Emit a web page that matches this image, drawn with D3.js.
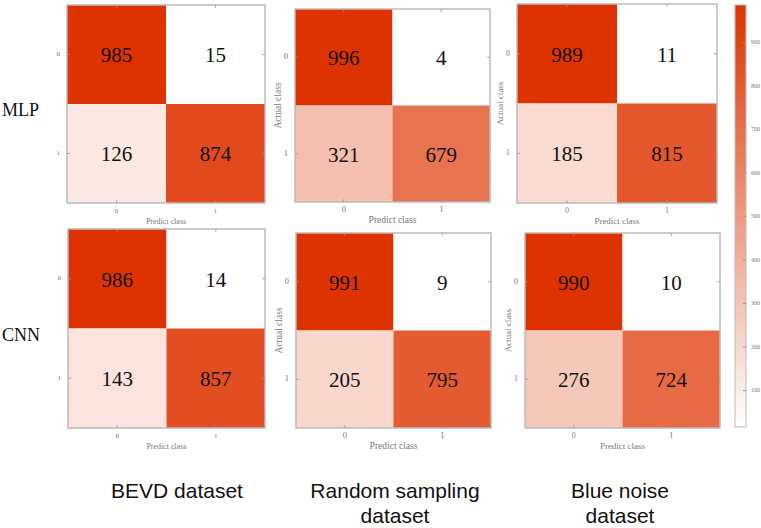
<!DOCTYPE html>
<html>
<head>
<meta charset="utf-8">
<script src="https://cdn.jsdelivr.net/npm/d3@7"></script>
<style>
  body { margin: 0; background: #fff; }
  svg { display: block; }
</style>
</head>
<body>
<svg id="chart" width="761" height="528"></svg>
<script>
// Chart data
var models = ["MLP", "CNN"];
var datasetTitles = [["BEVD dataset"], ["Random sampling", "dataset"], ["Blue noise", "dataset"]];
var classes = ["0", "1"];

// confusion matrices, rows = actual class, cols = predicted class
var mlpBevd = [[985, 15], [126, 874]];
var mlpRandom = [[996, 4], [321, 679]];
var mlpBlue = [[989, 11], [185, 815]];
var cnnBevd = [[986, 14], [143, 857]];
var cnnRandom = [[991, 9], [205, 795]];
var cnnBlue = [[990, 10], [276, 724]];

var matrices = [[mlpBevd, mlpRandom, mlpBlue], [cnnBevd, cnnRandom, cnnBlue]];
var colorbarTicks = [100, 200, 300, 400, 500, 600, 700, 800, 900];
var colorDomain = [15, 985];

// Panel boxes (layout only)
var boxes = [
    [{x: 67, y: 5, w: 198, h: 198, fs: 7, ylab: false},
     {x: 295, y: 9, w: 195, h: 193, fs: 8.5, ylab: true},
     {x: 517, y: 4, w: 200, h: 199, fs: 8, ylab: true}],
    [{x: 68, y: 229, w: 197, h: 199, fs: 7, ylab: false},
     {x: 296, y: 233, w: 195, h: 195, fs: 8.5, ylab: true},
     {x: 525, y: 233, w: 195, h: 195, fs: 8, ylab: true}]
];

var svg = d3.select("#chart");
var color = d3.scaleLinear().domain(colorDomain).range(["#ffffff", "#de3300"]).clamp(true);

var serif = "'Liberation Serif', 'DejaVu Serif', serif";
var gray = "#777";

matrices.forEach(function (row, r) {
    row.forEach(function (m, c) {
        var b = boxes[r][c];
        var g = svg.append("g").attr("transform", "translate(" + b.x + "," + b.y + ")");

        var xScale = d3.scaleBand().domain(classes).range([0, b.w]);
        var yScale = d3.scaleBand().domain(classes).range([0, b.h]);

        // Cells
        var cells = [];
        m.forEach(function (vals, i) {
            vals.forEach(function (v, j) {
                cells.push({actual: classes[i], pred: classes[j], value: v});
            });
        });

        g.selectAll(".cell")
            .data(cells)
            .enter().append("rect")
            .attr("class", "cell")
            .attr("x", d => xScale(d.pred))
            .attr("y", d => yScale(d.actual))
            .attr("width", xScale.bandwidth())
            .attr("height", yScale.bandwidth())
            .attr("fill", d => color(d.value));

        g.selectAll(".num")
            .data(cells)
            .enter().append("text")
            .attr("class", "num")
            .attr("x", d => xScale(d.pred) + xScale.bandwidth() / 2)
            .attr("y", d => yScale(d.actual) + yScale.bandwidth() / 2 + 3)
            .attr("text-anchor", "middle")
            .attr("dominant-baseline", "middle")
            .style("font-family", serif)
            .style("font-size", "21px")
            .style("fill", "#111")
            .text(d => d.value);

        // Frame
        g.append("rect")
            .attr("width", b.w)
            .attr("height", b.h)
            .attr("fill", "none")
            .attr("stroke", "#bbb")
            .attr("stroke-width", 1.5);

        // Inward tick marks on all sides
        classes.forEach(function (k) {
            var cx = xScale(k) + xScale.bandwidth() / 2;
            var cy = yScale(k) + yScale.bandwidth() / 2;
            [[cx, 0, cx, 3], [cx, b.h, cx, b.h - 3], [0, cy, 3, cy], [b.w, cy, b.w - 3, cy]].forEach(function (t) {
                g.append("line")
                    .attr("x1", t[0]).attr("y1", t[1]).attr("x2", t[2]).attr("y2", t[3])
                    .attr("stroke", "#999").attr("stroke-width", 0.8);
            });
        });

        // Tick labels
        g.selectAll(".ytick")
            .data(classes)
            .enter().append("text")
            .attr("x", -7)
            .attr("y", d => yScale(d) + yScale.bandwidth() / 2)
            .attr("text-anchor", "end")
            .attr("dominant-baseline", "middle")
            .style("font-family", serif)
            .style("font-size", b.fs + "px")
            .style("fill", gray)
            .text(d => d);

        g.selectAll(".xtick")
            .data(classes)
            .enter().append("text")
            .attr("x", d => xScale(d) + xScale.bandwidth() / 2)
            .attr("y", b.h + 10)
            .attr("text-anchor", "middle")
            .style("font-family", serif)
            .style("font-size", b.fs + "px")
            .style("fill", gray)
            .text(d => d);

        // Axis titles
        g.append("text")
            .attr("x", b.w / 2)
            .attr("y", b.h + 21)
            .attr("text-anchor", "middle")
            .style("font-family", serif)
            .style("font-size", (b.fs + 1) + "px")
            .style("fill", gray)
            .text("Predict class");

        if (b.ylab) {
            g.append("text")
                .attr("transform", "translate(-14," + (b.h / 2) + ") rotate(-90)")
                .attr("text-anchor", "middle")
                .style("font-family", serif)
                .style("font-size", (b.fs + 1) + "px")
                .style("fill", gray)
                .text("Actual class");
        }
    });

    // Model label
    var b0 = boxes[r][0];
    svg.append("text")
        .attr("x", 2)
        .attr("y", b0.y + b0.h / 2 + 12)
        .style("font-family", serif)
        .style("font-size", "18px")
        .style("fill", "#111")
        .text(models[r]);
});

// Dataset titles under each column
var titleX = [177, 395, 620];
datasetTitles.forEach(function (lines, c) {
    var t = svg.append("text")
        .attr("x", titleX[c])
        .attr("y", 498)
        .attr("text-anchor", "middle")
        .style("font-family", "'Liberation Sans', Arial, sans-serif")
        .style("font-size", "21px")
        .style("fill", "#111");
    lines.forEach(function (line, i) {
        t.append("tspan")
            .attr("x", titleX[c])
            .attr("dy", i === 0 ? 0 : 25)
            .text(line);
    });
});

// Colorbar
var cb = {x: 735, y: 5, w: 11, h: 422};
var cbScale = d3.scaleLinear().domain(colorDomain).range([cb.y + cb.h, cb.y]);

var defs = svg.append("defs");
var grad = defs.append("linearGradient")
    .attr("id", "cbgrad")
    .attr("x1", 0).attr("y1", 1).attr("x2", 0).attr("y2", 0);
grad.append("stop").attr("offset", "0%").attr("stop-color", color(colorDomain[0]));
grad.append("stop").attr("offset", "100%").attr("stop-color", color(colorDomain[1]));

svg.append("rect")
    .attr("x", cb.x).attr("y", cb.y)
    .attr("width", cb.w).attr("height", cb.h)
    .attr("fill", "url(#cbgrad)")
    .attr("stroke", "#bbb")
    .attr("stroke-width", 1);

var cbAxis = d3.axisRight(cbScale)
    .tickValues(colorbarTicks)
    .tickSizeInner(-3)
    .tickSizeOuter(0)
    .tickPadding(5);

var cbG = svg.append("g")
    .attr("transform", "translate(" + (cb.x + cb.w) + ",0)")
    .call(cbAxis);
cbG.select(".domain").remove();
cbG.selectAll("line").attr("stroke", "#999");
cbG.selectAll("text")
    .style("font-family", serif)
    .style("font-size", "6px")
    .style("fill", gray);
</script>
</body>
</html>
